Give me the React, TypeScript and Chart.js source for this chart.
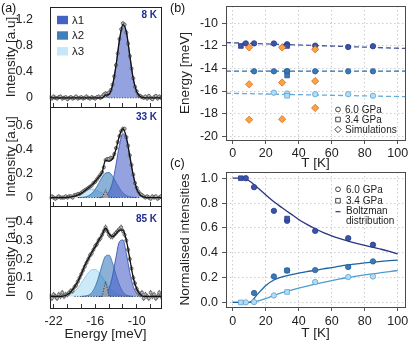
import React, { useEffect, useRef } from "react";
import { Chart, registerables } from "chart.js";
Chart.register(...registerables);

const FONT = '"Liberation Sans", Arial, Helvetica, sans-serif';
const W = 415;
const H = 343;

// ---------------- panel (a) data ----------------
const E_DATA = [
  -22.5, -22.25, -22, -21.75, -21.5, -21.25, -21, -20.75,
  -20.5, -20.25, -20, -19.75, -19.5, -19.25, -19, -18.75,
  -18.5, -18.25, -18, -17.75, -17.5, -17.25, -17, -16.75,
  -16.5, -16.25, -16, -15.75, -15.5, -15.25, -15, -14.75,
  -14.5, -14.25, -14, -13.75, -13.5, -13.25, -13, -12.75,
  -12.5, -12.25, -12, -11.75, -11.5, -11.25, -11, -10.75,
  -10.5, -10.25, -10, -9.75, -9.5, -9.25, -9, -8.75,
  -8.5, -8.25, -8, -7.75, -7.5, -7.25, -7, -6.75,
  -6.5,
];
const INT_8K = [
  0.01, -0.01, 0.02, 0.0, -0.01, 0.01, 0.02, -0.01,
  0.0, 0.01, -0.02, 0.0, 0.01, -0.01, 0.0, 0.02,
  -0.01, 0.0, 0.01, -0.01, 0.0, 0.02, 0.0, -0.01,
  0.01, 0.0, -0.01, 0.01, 0.02, 0.0, 0.02, 0.05,
  0.07, 0.06, 0.08, 0.12, 0.2, 0.33, 0.5, 0.68,
  0.9, 1.05, 1.14, 1.12, 1.0, 0.83, 0.64, 0.45,
  0.3, 0.17, 0.1, 0.04, 0.03, 0.01, 0.0, 0.02,
  -0.01, 0.03, 0.0, -0.02, 0.01, 0.03, -0.01, 0.02,
  0.0,
];
const INT_33K = [
  0.0, 0.01, 0.0, -0.01, 0.0, 0.01, 0.0, 0.0,
  0.0, 0.01, 0.0, 0.01, 0.01, 0.0, 0.02, 0.02,
  0.03, 0.03, 0.04, 0.05, 0.06, 0.07, 0.08, 0.09,
  0.1, 0.12, 0.13, 0.15, 0.17, 0.19, 0.21, 0.25,
  0.31, 0.32, 0.32, 0.33, 0.33, 0.36, 0.41, 0.46,
  0.51, 0.55, 0.57, 0.57, 0.5, 0.43, 0.35, 0.27,
  0.19, 0.12, 0.08, 0.05, 0.03, 0.02, 0.01, 0.0,
  0.01, 0.0, -0.01, 0.01, 0.0, 0.01, -0.01, 0.0,
  0.01,
];
const INT_85K = [
  0.0, -0.01, 0.01, 0.0, -0.01, 0.01, 0.0, 0.02,
  0.0, 0.01, 0.01, 0.02, 0.03, 0.03, 0.05, 0.06,
  0.08, 0.1, 0.12, 0.14, 0.16, 0.18, 0.2, 0.22,
  0.23, 0.25, 0.27, 0.28, 0.3, 0.31, 0.33, 0.35,
  0.37, 0.35, 0.33, 0.32, 0.32, 0.33, 0.34, 0.35,
  0.36, 0.37, 0.35, 0.33, 0.3, 0.25, 0.2, 0.15,
  0.1, 0.07, 0.04, 0.02, 0.01, 0.02, -0.01, 0.01,
  0.0, -0.01, 0.02, 0.0, 0.01, -0.01, 0.0, 0.02,
  0.0,
];
const ERR_8K = 0.03;
const ERR_33K = 0.015;
const ERR_85K = 0.015;

const E_FIT = [
  -22.5, -22, -21.5, -21, -20.5, -20, -19.5, -19, -18.5, -18, -17.5,
  -17, -16.5, -16, -15.5, -15, -14.5, -14, -13.5, -13, -12.5, -12,
  -11.5, -11, -10.5, -10, -9.5, -9, -8.5, -8, -7.5, -7, -6.5,
];
const FIT_8K = [
  0, 0, 0, 0, 0, 0, 0, 0, 0, 0, 0,
  0, 0, 0, 0, 0.001, 0.04, 0.053, 0.19, 0.49, 0.88, 1.12,
  1.01, 0.645, 0.29, 0.092, 0.02, 0.003, 0, 0, 0, 0, 0,
];
const L1_8K = [
  0, 0, 0, 0, 0, 0, 0, 0, 0, 0, 0,
  0, 0, 0, 0, 0.001, 0.01, 0.053, 0.19, 0.49, 0.88, 1.12,
  1.01, 0.645, 0.29, 0.092, 0.02, 0.003, 0, 0, 0, 0, 0,
];
const GRAY_8K = [
  null, null, null, null, null, null, null, null, null, null, null,
  null, null, null, 0, 0, 0.03, 0, 0, 0, 0, 0,
  0, 0, 0, 0, 0, 0, null, null, null, null, null,
];
const FIT_33K = [
  0, 0, 0, 0, 0, 0.002, 0.005, 0.011, 0.021, 0.037, 0.057,
  0.079, 0.103, 0.133, 0.169, 0.207, 0.31, 0.3, 0.32, 0.4, 0.51, 0.57,
  0.5, 0.343, 0.185, 0.071, 0.022, 0.005, 0, 0, 0, 0, 0,
];
const L1_33K = [
  0, 0, 0, 0, 0, 0, 0, 0, 0, 0, 0,
  0, 0, 0, 0, 0.003, 0.013, 0.046, 0.125, 0.27, 0.434, 0.53,
  0.48, 0.337, 0.183, 0.071, 0.022, 0.005, 0, 0, 0, 0, 0,
];
const L2_33K = [
  0, 0, 0, 0, 0, 0, 0, 0, 0, 0.001, 0.005,
  0.014, 0.033, 0.068, 0.117, 0.168, 0.203, 0.207, 0.177, 0.127, 0.077, 0.039,
  0.017, 0.006, 0.002, 0, 0, 0, 0, 0, 0, 0, 0,
];
const L3_33K = [
  0, 0, 0, 0, 0, 0.002, 0.005, 0.011, 0.021, 0.036, 0.052,
  0.065, 0.07, 0.065, 0.052, 0.036, 0.021, 0.011, 0.005, 0.002, 0, 0,
  0, 0, 0, 0, 0, 0, 0, 0, 0, 0, 0,
];
const GRAY_33K = [
  null, null, null, null, null, null, null, null, 0, 0, 0,
  0, 0, 0, 0, 0, 0.065, 0, 0, 0, 0, 0,
  0, 0, 0, 0, 0, null, null, null, null, null, null,
];
const FIT_85K = [
  0, 0, 0, 0, 0.003, 0.01, 0.025, 0.05, 0.08, 0.12, 0.165,
  0.2, 0.235, 0.265, 0.3, 0.33, 0.365, 0.335, 0.32, 0.335, 0.355, 0.355,
  0.3, 0.2, 0.1, 0.04, 0.01, 0, 0, 0, 0, 0, 0,
];
const L1_85K = [
  0, 0, 0, 0, 0, 0, 0, 0, 0, 0, 0,
  0, 0, 0, 0, 0.002, 0.012, 0.042, 0.109, 0.209, 0.293, 0.302,
  0.229, 0.127, 0.052, 0.016, 0.003, 0, 0, 0, 0, 0, 0,
];
const L2_85K = [
  0, 0, 0, 0, 0, 0, 0, 0, 0, 0, 0.002,
  0.006, 0.02, 0.052, 0.104, 0.168, 0.216, 0.221, 0.18, 0.117, 0.061, 0.025,
  0.008, 0.002, 0, 0, 0, 0, 0, 0, 0, 0, 0,
];
const L3_85K = [
  0, 0, 0, 0.001, 0.002, 0.006, 0.013, 0.025, 0.045, 0.071, 0.1,
  0.126, 0.142, 0.144, 0.13, 0.105, 0.076, 0.049, 0.029, 0.015, 0.007, 0.003,
  0.001, 0, 0, 0, 0, 0, 0, 0, 0, 0, 0,
];
const GRAY_85K = [
  null, null, null, null, null, null, null, 0, 0, 0, 0,
  0, 0, 0, 0, 0, 0.08, 0, 0, 0, 0, 0,
  0, 0, 0, 0, 0, null, null, null, null, null, null,
];
const A_X_LABELS = [-22, -16, -10];
const A_LEGEND = ["λ1", "λ2", "λ3"];
const A_TEMPS = ["8 K", "33 K", "85 K"];

// ---------------- panel (b) data ----------------
const T_B_CIRC_L1 = [8, 13, 25, 33, 50, 70, 85];
const E_B_CIRC_L1 = [-11.77, -11.77, -11.78, -11.85, -11.97, -12.09, -12.02];
const T_B_CIRC_L2 = [13, 25, 33, 50, 70, 85];
const E_B_CIRC_L2 = [-14.25, -14.25, -14.25, -14.25, -14.25, -14.25];
const T_B_CIRC_L3 = [25, 33, 50, 70, 85];
const E_B_CIRC_L3 = [-16.15, -16.22, -16.28, -16.28, -16.42];
const T_B_SQ_L1 = [5, 33];
const E_B_SQ_L1 = [-12.0, -12.0];
const T_B_SQ_L2 = [33, 33];
const E_B_SQ_L2 = [-14.25, -14.62];
const T_B_SQ_L3 = [33];
const E_B_SQ_L3 = [-16.42];
const T_SIM = [10, 30, 50, 10, 30, 50, 50, 10, 30];
const E_SIM = [-12.13, -12.13, -12.3, -15.4, -15.25, -15.12, -17.5, -18.55, -18.5];
const T_B_FIT = [-4, 104.4];
const E_B_FIT_L1 = [-11.7, -12.22];
const E_B_FIT_L2 = [-14.23, -14.23];
const E_B_FIT_L3 = [-16.2, -16.5];

// ---------------- panel (c) data ----------------
const T_C_CIRC_L1 = [8, 13, 25, 33, 50, 70, 85];
const I_C_CIRC_L1 = [1.0, 0.928, 0.737, 0.657, 0.576, 0.517, 0.464];
const T_C_CIRC_L2 = [13, 25, 33, 50, 70, 85];
const I_C_CIRC_L2 = [0.076, 0.209, 0.257, 0.26, 0.285, 0.33];
const T_C_CIRC_L3 = [8, 13, 25, 50, 70, 85];
const I_C_CIRC_L3 = [0.0, 0.003, 0.056, 0.164, 0.204, 0.209];
const T_C_SQ_L1 = [5, 33];
const I_C_SQ_L1 = [1.0, 0.675];
const T_C_SQ_L2 = [33];
const I_C_SQ_L2 = [0.257];
const T_C_SQ_L3 = [5, 33];
const I_C_SQ_L3 = [0.0, 0.084];
const T_CURVE = [0, 5, 10, 15, 20, 25, 30, 35, 40, 45, 50, 55, 60, 65, 70, 75, 80, 85, 90, 95, 100];
const BOLTZ_L1 = [1.0, 1.0, 0.98, 0.925, 0.866, 0.81, 0.762, 0.715, 0.668, 0.628, 0.593, 0.562, 0.536, 0.514, 0.494, 0.476, 0.459, 0.443, 0.428, 0.41, 0.39];
const BOLTZ_L2 = [0, 0, 0.0, 0.065, 0.135, 0.18, 0.205, 0.222, 0.236, 0.248, 0.258, 0.27, 0.28, 0.292, 0.302, 0.31, 0.318, 0.325, 0.331, 0.336, 0.341];
const BOLTZ_L3 = [0, 0, 0, 0.01, 0.03, 0.055, 0.078, 0.096, 0.114, 0.131, 0.147, 0.162, 0.176, 0.189, 0.2, 0.211, 0.221, 0.23, 0.239, 0.248, 0.257];

// ---------------- styles ----------------
const L1_FILL = "rgba(70,95,200,0.58)";
const L1_EDGE = "#3d56b6";
const L2_FILL = "rgba(55,120,185,0.58)";
const L2_EDGE = "#3a76b2";
const L3_FILL = "rgba(170,220,245,0.6)";
const L3_EDGE = "#8ec7ea";
const L1_BOX = "#4262c4";
const L2_BOX = "#3f7fba";
const L3_BOX = "#c4e7f9";

const C1 = { fill: "#3a54aa", edge: "#27398a" };
const C2 = { fill: "#3a78b6", edge: "#275f99" };
const C3 = { fill: "#b4dcf4", edge: "#5aa2d2" };
const SIM = { fill: "#f7a540", edge: "#e0621a" };

Chart.defaults.font.family = FONT;
Chart.defaults.color = "#222";

const xy = (xs: number[], ys: (number | null)[]) => xs.map((x, i) => ({ x, y: ys[i] }));

function framePlugin(color: string) {
  return {
    id: "frame",
    afterDatasetsDraw(chart: any) {
      const { ctx, chartArea: a } = chart;
      ctx.save();
      ctx.strokeStyle = color;
      ctx.lineWidth = 1;
      ctx.strokeRect(Math.round(a.left) + 0.5, Math.round(a.top) + 0.5, Math.round(a.right - a.left), Math.round(a.bottom - a.top));
      ctx.restore();
    },
  };
}

function overlayPlugin(draw: (ctx: CanvasRenderingContext2D, chart: any) => void) {
  return {
    id: "overlay",
    afterDraw(chart: any) {
      chart.ctx.save();
      draw(chart.ctx, chart);
      chart.ctx.restore();
    },
  };
}

function errorBarPlugin(index: number, err: number) {
  return {
    id: "errorBars",
    beforeDatasetDraw(chart: any, args: any) {
      if (args.index !== index) return;
      const ys = chart.scales.y;
      const d = Math.abs(ys.getPixelForValue(0) - ys.getPixelForValue(err));
      const ctx = chart.ctx;
      ctx.save();
      ctx.strokeStyle = "#444";
      ctx.lineWidth = 0.7;
      ctx.beginPath();
      args.meta.data.forEach((pt: any) => {
        ctx.moveTo(pt.x, pt.y - d);
        ctx.lineTo(pt.x, pt.y + d);
      });
      ctx.stroke();
      ctx.restore();
    },
  };
}

function baseOptions(padding: any) {
  return {
    responsive: false,
    animation: false,
    devicePixelRatio: 1,
    events: [],
    layout: { padding },
    plugins: { legend: { display: false }, tooltip: { enabled: false } },
  };
}

type APanel = {
  fit: number[]; data: number[]; err: number; gray: (number | null)[];
  l1?: number[]; l2?: number[]; l3?: number[];
  top: number; bottom: number; xh: number; showX: boolean;
  yMin: number; yMax: number; step: number; legend?: boolean;
};

function buildA(p: APanel) {
  const flat = {
    borderColor: (c: any) => (c.p0.parsed.y === 0 && c.p1.parsed.y === 0 ? "rgba(0,0,0,0)" : undefined),
  };
  const comp = (ys: number[], fill: string, edge: string, order: number) => ({
    data: xy(E_FIT, ys), backgroundColor: fill, borderColor: edge, borderWidth: 0.9,
    fill: "origin", pointRadius: 0, cubicInterpolationMode: "monotone", segment: flat, order,
  });
  const datasets: any[] = [
    { data: xy(E_FIT, p.fit), borderColor: "#111", borderWidth: 1.3, fill: false, pointRadius: 0, cubicInterpolationMode: "monotone", order: 1 },
    { data: xy(E_DATA, p.data), showLine: false, pointRadius: 1.6, pointBorderWidth: 0.6, pointBorderColor: "#333", pointBackgroundColor: "#b8b8b8", order: 2 },
    { data: xy(E_FIT, p.gray), borderColor: "#222", borderWidth: 0.8, borderDash: [1.2, 1.5], backgroundColor: "rgba(160,160,160,0.95)", fill: "origin", pointRadius: 0, tension: 0, order: 3 },
  ];
  if (p.l1) datasets.push(comp(p.l1, L1_FILL, L1_EDGE, 4));
  if (p.l2) datasets.push(comp(p.l2, L2_FILL, L2_EDGE, 5));
  if (p.l3) datasets.push(comp(p.l3, L3_FILL, L3_EDGE, 6));

  const plugins: any[] = [framePlugin("#222"), errorBarPlugin(1, p.err)];
  if (p.legend) {
    plugins.push(
      overlayPlugin((ctx) => {
        const boxes = [L1_BOX, L2_BOX, L3_BOX];
        const ys = [20, 35.5, 51.3];
        ctx.font = `11.5px ${FONT}`;
        ctx.textBaseline = "middle";
        boxes.forEach((c, i) => {
          ctx.fillStyle = c;
          ctx.fillRect(57, ys[i] - 4.2, 11, 8.4);
          ctx.fillStyle = "#222";
          ctx.fillText(A_LEGEND[i], 72, ys[i] + 0.5);
        });
      })
    );
  }

  return {
    type: "line",
    data: { datasets },
    options: {
      ...baseOptions({ left: 0, top: p.top, right: W - 161, bottom: H - p.bottom - p.xh }),
      scales: {
        x: {
          type: "linear", min: -22.52, max: -6.5, z: 1,
          ticks: {
            stepSize: 2, includeBounds: false, autoSkip: false, maxRotation: 0, padding: 10,
            font: { size: 12.5 }, color: "#222",
            callback: (v: number) => (p.showX && A_X_LABELS.includes(Math.round(v)) && Math.abs(v - Math.round(v)) < 1e-6 ? String(Math.round(v)) : ""),
          },
          grid: { drawOnChartArea: false, drawTicks: true, tickLength: -4, tickColor: "#333", tickWidth: 1 },
          border: { display: false },
          title: { display: p.showX, text: "Energy [meV]", font: { size: 13.5 }, color: "#222", padding: { top: 0, bottom: 1 } },
          afterFit: (s: any) => { s.height = p.xh; s.paddingLeft = 0; s.paddingRight = 0; },
        },
        y: {
          min: p.yMin, max: p.yMax,
          ticks: { stepSize: p.step, includeBounds: false, padding: 9, font: { size: 12.5 }, color: "#222" },
          grid: { display: false },
          border: { display: false },
          title: { display: true, text: "Intensity [a.u]", font: { size: 13.5 }, color: "#222", padding: { top: 3, bottom: 0 } },
          afterFit: (s: any) => { s.width = 50; s.paddingTop = 0; s.paddingBottom = 0; },
        },
      },
    },
    plugins,
  };
}

const gridCommon = {
  color: "#cdcdcd", lineWidth: 1, drawTicks: true, tickLength: 4, tickColor: "#555", tickWidth: 1, tickBorderDash: [],
};

function axesBC(yTitle: string, yMin: number, yMax: number, yStep: number, xh: number, xPad: number, titlePadB: number, yFmt?: (v: number) => string) {
  return {
    x: {
      type: "linear", min: -4, max: 104.4,
      ticks: { stepSize: 20, includeBounds: false, autoSkip: false, maxRotation: 0, padding: xPad, font: { size: 12.5 }, color: "#222" },
      grid: gridCommon,
      border: { display: false, dash: [1.5, 2.5] },
      title: { display: true, text: "T [K]", font: { size: 13.5 }, color: "#222", padding: { top: 0, bottom: titlePadB } },
      afterFit: (s: any) => { s.height = xh; s.paddingLeft = 0; s.paddingRight = 0; },
    },
    y: {
      min: yMin, max: yMax,
      ticks: { stepSize: yStep, includeBounds: false, padding: 4, font: { size: 12.5 }, color: "#222", ...(yFmt ? { callback: yFmt } : {}) },
      grid: gridCommon,
      border: { display: false, dash: [1.5, 2.5] },
      title: { display: true, text: yTitle, font: { size: 13.5 }, color: "#222", padding: { top: 4.9, bottom: 0 } },
      afterFit: (s: any) => { s.width = 54; s.paddingTop = 0; s.paddingBottom = 0; },
    },
  };
}

function pts(xs: number[], ys: number[], style: string, col: { fill: string; edge: string }, r: number, order: number) {
  return {
    data: xy(xs, ys), showLine: false, pointStyle: style, pointRadius: r, pointBorderWidth: 0.8,
    pointBackgroundColor: col.fill, pointBorderColor: col.edge, order,
  };
}
function line(xs: number[], ys: number[], color: string, dash: number[], order: number, monotone = false) {
  return {
    data: xy(xs, ys), showLine: true, borderColor: color, borderWidth: 1.3, borderDash: dash, pointRadius: 0, fill: false,
    ...(monotone ? { cubicInterpolationMode: "monotone" } : { tension: 0 }), order,
  };
}

function symbol(ctx: CanvasRenderingContext2D, kind: string, x: number, y: number) {
  ctx.save();
  ctx.strokeStyle = "#333";
  ctx.lineWidth = 0.9;
  ctx.beginPath();
  if (kind === "circle") ctx.arc(x, y, 2.4, 0, Math.PI * 2);
  else if (kind === "square") ctx.rect(x - 2.3, y - 2.3, 4.6, 4.6);
  else { ctx.moveTo(x, y - 3.2); ctx.lineTo(x + 3.2, y); ctx.lineTo(x, y + 3.2); ctx.lineTo(x - 3.2, y); ctx.closePath(); }
  ctx.stroke();
  ctx.restore();
}

function buildB() {
  return {
    type: "scatter",
    data: {
      datasets: [
        pts(T_SIM, E_SIM, "rectRot", SIM, 3.6, 1),
        pts(T_B_SQ_L1, E_B_SQ_L1, "rect", C1, 3.3, 2),
        pts(T_B_SQ_L2, E_B_SQ_L2, "rect", C2, 3.3, 2),
        pts(T_B_SQ_L3, E_B_SQ_L3, "rect", C3, 3.3, 2),
        pts(T_B_CIRC_L1, E_B_CIRC_L1, "circle", C1, 2.7, 3),
        pts(T_B_CIRC_L2, E_B_CIRC_L2, "circle", C2, 2.7, 3),
        pts(T_B_CIRC_L3, E_B_CIRC_L3, "circle", C3, 2.7, 3),
        line(T_B_FIT, E_B_FIT_L1, "#4a5590", [5, 3], 4),
        line(T_B_FIT, E_B_FIT_L2, "#2d6aa5", [5, 3], 4),
        line(T_B_FIT, E_B_FIT_L3, "#64aad8", [5, 3], 4),
      ],
    },
    options: {
      ...baseOptions({ left: 172, top: 6, right: W - 405, bottom: 171 }),
      scales: axesBC("Energy [meV]", -20.35, -8.45, 2, 32, 1.8, 0.6),
    },
    plugins: [
      framePlugin("#4a4a4a"),
      overlayPlugin((ctx) => {
        const rows = [["circle", "6.0 GPa", 109.5], ["square", "3.4 GPa", 119.5], ["diamond", "Simulations", 129.5]] as const;
        ctx.font = `10px ${FONT}`;
        ctx.fillStyle = "#222";
        ctx.textBaseline = "middle";
        rows.forEach(([k, t, y]) => {
          symbol(ctx, k, 338, y);
          ctx.fillText(t, 345, y + 0.5);
        });
      }),
    ],
  };
}

function buildC() {
  return {
    type: "scatter",
    data: {
      datasets: [
        pts(T_C_SQ_L1, I_C_SQ_L1, "rect", C1, 3.3, 1),
        pts(T_C_SQ_L2, I_C_SQ_L2, "rect", C2, 3.3, 1),
        pts(T_C_SQ_L3, I_C_SQ_L3, "rect", C3, 3.3, 1),
        pts(T_C_CIRC_L1, I_C_CIRC_L1, "circle", C1, 2.7, 2),
        pts(T_C_CIRC_L2, I_C_CIRC_L2, "circle", C2, 2.7, 2),
        pts(T_C_CIRC_L3, I_C_CIRC_L3, "circle", C3, 2.7, 2),
        line(T_CURVE, BOLTZ_L1, "#2b3580", [], 3, true),
        line(T_CURVE, BOLTZ_L2, "#1e63a3", [], 3, true),
        line(T_CURVE, BOLTZ_L3, "#4d9dcd", [], 3, true),
      ],
    },
    options: {
      ...baseOptions({ left: 172, top: 172, right: W - 405, bottom: 0 }),
      scales: axesBC("Normalised intensities", -0.037, 1.05, 0.2, 36, 3.2, 1.6, (v: number) => v.toFixed(1)),
    },
    plugins: [
      framePlugin("#4a4a4a"),
      overlayPlugin((ctx) => {
        ctx.font = `10px ${FONT}`;
        ctx.fillStyle = "#222";
        ctx.textBaseline = "middle";
        symbol(ctx, "circle", 338, 189.3);
        ctx.fillText("6.0 GPa", 346, 189.8);
        symbol(ctx, "square", 338, 200.7);
        ctx.fillText("3.4 GPa", 346, 201.2);
        ctx.strokeStyle = "#2b3580";
        ctx.lineWidth = 1.2;
        ctx.beginPath();
        ctx.moveTo(335.5, 211.7);
        ctx.lineTo(340.5, 211.7);
        ctx.stroke();
        ctx.fillText("Boltzman", 346, 211.7);
        ctx.fillText("distribution", 346, 220.9);
      }),
    ],
  };
}

function ChartLayer({ build }: { build: () => any }) {
  const ref = useRef<HTMLCanvasElement>(null);
  useEffect(() => {
    const chart = new Chart(ref.current as HTMLCanvasElement, build());
    return () => chart.destroy();
  }, []);
  return <canvas ref={ref} width={W} height={H} style={{ position: "absolute", left: 0, top: 0, width: W, height: H }} />;
}

const builders = [
  () => buildA({ fit: FIT_8K, data: INT_8K, err: ERR_8K, gray: GRAY_8K, l1: L1_8K, top: 7, bottom: 107, xh: 2, showX: false, yMin: -0.14, yMax: 1.39, step: 0.2, legend: true }),
  () => buildA({ fit: FIT_33K, data: INT_33K, err: ERR_33K, gray: GRAY_33K, l1: L1_33K, l2: L2_33K, l3: L3_33K, top: 107, bottom: 206, xh: 2, showX: false, yMin: -0.07, yMax: 0.75, step: 0.1 }),
  () => buildA({ fit: FIT_85K, data: INT_85K, err: ERR_85K, gray: GRAY_85K, l1: L1_85K, l2: L2_85K, l3: L3_85K, top: 206, bottom: 308, xh: 35, showX: true, yMin: -0.062, yMax: 0.484, step: 0.1 }),
  buildB,
  buildC,
];

export default function App() {
  const label: React.CSSProperties = { position: "absolute", fontFamily: FONT, fontSize: 12.5, lineHeight: "13px", color: "#111", whiteSpace: "nowrap" };
  const temp: React.CSSProperties = { position: "absolute", right: W - 157, fontFamily: FONT, fontWeight: "bold", fontSize: 10, lineHeight: "10px", color: "#1f2d8f", whiteSpace: "nowrap" };
  const tempTops = [10, 112, 213.5];
  return (
    <div style={{ position: "absolute", left: 0, top: 0, width: W, height: H, background: "#fff", overflow: "hidden" }}>
      {builders.map((b, i) => (
        <ChartLayer key={i} build={b} />
      ))}
      <div style={{ ...label, left: 1, top: 2 }}>(a)</div>
      <div style={{ ...label, left: 170, top: 2 }}>(b)</div>
      <div style={{ ...label, left: 170, top: 157 }}>(c)</div>
      {A_TEMPS.map((t, i) => (
        <div key={t} style={{ ...temp, top: tempTops[i] }}>{t}</div>
      ))}
    </div>
  );
}
